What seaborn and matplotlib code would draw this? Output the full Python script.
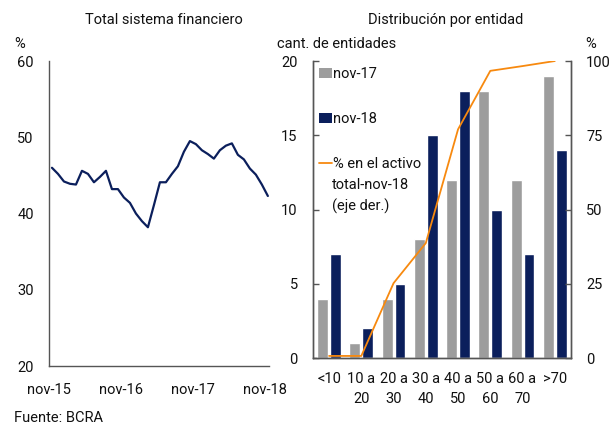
import pandas as pd
import matplotlib
matplotlib.use("Agg")
import matplotlib.pyplot as plt
import seaborn as sns
from matplotlib.patches import Patch
from matplotlib.lines import Line2D

# Left panel: monthly ratio, nov-15 .. nov-18 (%)
ratio_total = [
    46.0, 45.2, 44.2, 43.9, 43.8, 45.6, 45.2, 44.1, 44.8, 45.6,
    43.2, 43.2, 42.1, 41.4, 40.0, 39.0, 38.2, 41.1, 44.1, 44.1,
    45.2, 46.2, 48.1, 49.5, 49.1, 48.3, 47.8, 47.2, 48.3, 48.9,
    49.2, 47.7, 47.1, 45.9, 45.1, 43.8, 42.3,
]
month_ticks = ["nov-15", "nov-16", "nov-17", "nov-18"]

# Right panel: number of entities by ratio bucket
categories = ["<10", "10 a\n20", "20 a\n30", "30 a\n40", "40 a\n50",
              "50 a\n60", "60 a\n70", ">70"]
count_nov17 = [4, 1, 4, 8, 12, 18, 12, 19]
count_nov18 = [7, 2, 5, 15, 18, 10, 7, 14]
share_assets_nov18 = [0.7, 0.7, 25.2, 38.7, 77.0, 96.7, 98.3, 100.0]

NAVY = "#0b1f5c"
GREY = "#9d9d9d"
ORANGE = "#f7890f"
SPINE = "#555555"


def style_axis(ax):
    ax.tick_params(direction="in", length=4, width=1, color=SPINE,
                   labelsize=10.5, pad=11)
    for s in ax.spines.values():
        s.set_color(SPINE)
        s.set_linewidth(1)


def main():
    sns.set_theme(style="white")
    plt.rcParams["font.family"] = ["Roboto", "DejaVu Sans"]
    plt.rcParams["text.color"] = "#111111"
    plt.rcParams["xtick.color"] = "#111111"
    plt.rcParams["ytick.color"] = "#111111"

    fig = plt.figure(figsize=(6.16, 4.25), dpi=100)
    ax1 = fig.add_axes([0.0795, 0.1388, 0.357, 0.7176])
    ax2 = fig.add_axes([0.508, 0.1576, 0.4188, 0.6988])

    # left panel
    line_df = pd.DataFrame({"mes": range(len(ratio_total)), "ratio": ratio_total})
    sns.lineplot(data=line_df, x="mes", y="ratio", ax=ax1, color=NAVY,
                 linewidth=1.6)
    ax1.set_xlim(-0.5, 36.17)
    ax1.set_ylim(20, 60)
    ax1.set_yticks([20, 30, 40, 50, 60])
    ax1.set_xticks([-0.5, 11.5, 23.5, 35.5])
    ax1.set_xticklabels(month_ticks)
    ax1.set_xlabel("")
    ax1.set_ylabel("")
    ax1.spines["top"].set_visible(False)
    ax1.spines["right"].set_visible(False)
    style_axis(ax1)
    ax1.tick_params(axis="x", pad=12)

    # right panel
    bar_df = pd.DataFrame({
        "cat": categories * 2,
        "n": count_nov17 + count_nov18,
        "serie": ["nov-17"] * len(categories) + ["nov-18"] * len(categories),
    })
    sns.barplot(data=bar_df, x="cat", y="n", hue="serie", ax=ax2,
                palette={"nov-17": GREY, "nov-18": NAVY}, width=0.8,
                gap=0.15, saturation=1, legend=False)
    ax2.set_xlim(-0.5, 7.5)
    ax2.set_ylim(0, 20)
    ax2.set_yticks([0, 5, 10, 15, 20])
    ax2.set_xlabel("")
    ax2.set_ylabel("")
    ax2.spines["top"].set_visible(False)
    style_axis(ax2)
    ax2.tick_params(axis="x", length=0, pad=10)
    for lab in ax2.get_xticklabels():
        lab.set_linespacing(1.55)

    ax3 = ax2.twinx()
    sns.lineplot(x=list(range(len(categories))), y=share_assets_nov18, ax=ax3,
                 color=ORANGE, linewidth=1.3)
    ax3.set_ylim(0, 100)
    ax3.set_yticks([0, 25, 50, 75, 100])
    ax3.set_ylabel("")
    ax3.spines["top"].set_visible(False)
    style_axis(ax3)

    handles = [
        Patch(facecolor=GREY, edgecolor="none"),
        Patch(facecolor=NAVY, edgecolor="none"),
        Line2D([0], [0], color=ORANGE, linewidth=1.3),
    ]
    labels = ["nov-17", "nov-18", "% en el activo"]
    ax3.legend(handles, labels, loc="upper left", bbox_to_anchor=(0, 1),
               frameon=False, fontsize=10.5, handlelength=0.9,
               handleheight=0.7, handletextpad=0.1, labelspacing=2.12,
               borderaxespad=0.2, borderpad=0.2)
    # continuation of the third legend label
    ax3.text(0.075, 0.5825, "total-nov-18", transform=ax3.transAxes,
             ha="left", va="center", fontsize=10.5)
    ax3.text(0.075, 0.512, "(eje der.)", transform=ax3.transAxes,
             ha="left", va="center", fontsize=10.5)

    # titles and unit labels
    fig.text(0.266, 0.953, "Total sistema financiero", ha="center",
             va="center", fontsize=10.5)
    fig.text(0.724, 0.953, "Distribución por entidad", ha="center",
             va="center", fontsize=10.5)
    fig.text(0.023, 0.897, "%", ha="left", va="center", fontsize=10.5)
    fig.text(0.449, 0.897, "cant. de entidades", ha="left", va="center",
             fontsize=10.5)
    fig.text(0.950, 0.897, "%", ha="left", va="center", fontsize=10.5)
    fig.text(0.023, 0.017, "Fuente: BCRA", ha="left", va="center",
             fontsize=10.5)

    fig.savefig("out.png", dpi=100)


if __name__ == "__main__":
    main()
